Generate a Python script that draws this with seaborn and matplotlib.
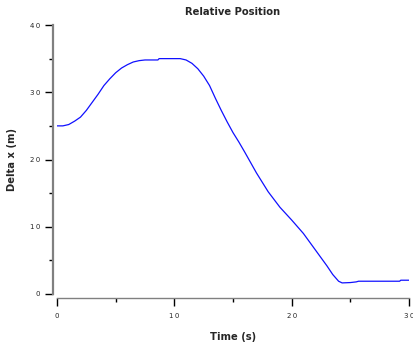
import numpy as np
import pandas as pd
import seaborn as sns
import matplotlib.pyplot as plt
from matplotlib.ticker import MultipleLocator, FuncFormatter

# time (s) and relative position (m)
time_s = [0, 0.5, 1.0, 1.5, 2.0, 2.5, 3.0, 3.5, 4.0, 4.5, 5.0, 5.5, 6.0, 6.5,
          7.0, 7.5, 8.0, 8.6, 8.7, 9.5, 10.5, 11.0, 11.5, 12.0, 12.5, 13.0,
          13.5, 14.0, 14.5, 15.0, 15.5, 16.0, 17.0, 18.0, 19.0, 20.0, 21.0,
          22.0, 23.0, 23.5, 24.0, 24.3, 25.0, 25.5, 25.7, 29.2, 29.3, 30.0]
delta_x = [25.0, 25.0, 25.2, 25.7, 26.3, 27.3, 28.5, 29.7, 31.0, 32.0, 32.9,
           33.6, 34.1, 34.5, 34.7, 34.8, 34.8, 34.8, 35.0, 35.0, 35.0, 34.8,
           34.3, 33.5, 32.4, 31.0, 29.1, 27.3, 25.6, 24.0, 22.6, 21.1, 18.0,
           15.2, 12.9, 11.0, 9.0, 6.6, 4.2, 2.9, 1.9, 1.65, 1.7, 1.8, 1.9,
           1.9, 2.05, 2.05]

df = pd.DataFrame({'Time (s)': time_s, 'Delta x (m)': delta_x})

sns.set_style('ticks')
plt.rcParams['font.family'] = ['DejaVu Sans']

fig = plt.figure(figsize=(4.14, 3.49), dpi=100)
ax = fig.add_axes([57 / 414, 1 - 294 / 349, 352 / 414, 269 / 349])

sns.lineplot(data=df, x='Time (s)', y='Delta x (m)', ax=ax,
             color='#1010ff', linewidth=0.9)

ax.set_xlim(0, 30)
ax.set_ylim(0, 40)
ax.xaxis.set_major_locator(MultipleLocator(10))
ax.xaxis.set_minor_locator(MultipleLocator(5))
ax.yaxis.set_major_locator(MultipleLocator(10))
ax.yaxis.set_minor_locator(MultipleLocator(5))

spaced = FuncFormatter(lambda v, p: '\u2009'.join(str(int(v))))
ax.xaxis.set_major_formatter(spaced)
ax.yaxis.set_major_formatter(spaced)

ax.tick_params(which='major', length=6, width=1, color='black',
               labelsize=5, pad=3)
ax.tick_params(which='minor', length=3, width=1, color='black')
for lbl in ax.get_xticklabels() + ax.get_yticklabels():
    lbl.set_fontweight('bold')
ax.tick_params(axis='x', pad=5)

sns.despine(ax=ax, offset=3)
ax.spines['left'].set_color('#808080')
ax.spines['left'].set_linewidth(1.6)
ax.spines['bottom'].set_color('#808080')
ax.spines['bottom'].set_linewidth(1.0)

ax.set_title('Relative Position', fontsize=7.2, fontweight='bold', pad=7)
ax.set_xlabel('Time (s)', fontsize=7.2, fontweight='bold')
ax.set_ylabel('Delta x (m)', fontsize=7.2, fontweight='bold')
ax.xaxis.set_label_coords(0.5, -0.14)
ax.yaxis.set_label_coords(-0.115, 0.5)

fig.savefig('out.png', dpi=100)
